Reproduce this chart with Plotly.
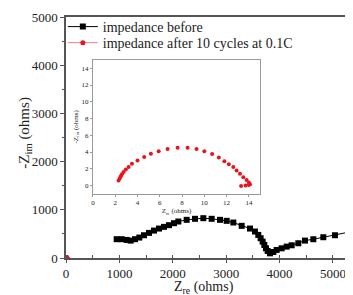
import plotly.graph_objects as go

# Black series: impedance before (ohms)
before_x = [949, 1043, 1136, 1211, 1292, 1373, 1461, 1554, 1648, 1742, 1835, 1929, 2022,
            2104, 2260, 2416, 2572, 2728, 2884, 3009, 3134, 3290, 3446, 3539, 3601, 3645,
            3683, 3714, 3745, 3777, 3820, 3883, 3945, 4039, 4133, 4226, 4351, 4476, 4632,
            4819, 5037, 5287]
before_y = [390, 390, 375, 361, 390, 424, 472, 521, 569, 611, 646, 681, 722,
            757, 792, 813, 826, 813, 792, 771, 736, 667, 611, 549, 479, 410,
            340, 271, 201, 146, 97, 125, 167, 201, 236, 264, 306, 361, 389,
            431, 472, 535]

# Red series: impedance after 10 cycles at 0.1C (ohms)
after_x = [2.3, 2.4, 2.5, 2.6, 2.75, 2.95, 3.2, 3.5, 4.0, 4.6, 5.2, 5.9, 6.7, 7.6, 8.5,
           9.3, 10.0, 10.7, 11.3, 11.8, 12.2, 12.6, 12.9, 13.2, 13.5, 13.8, 14.0, 14.1,
           14.0, 13.7, 13.3]
after_y = [0.6, 0.85, 1.1, 1.35, 1.6, 1.9, 2.2, 2.6, 3.0, 3.4, 3.8, 4.1, 4.35, 4.5, 4.5,
           4.35, 4.1, 3.75, 3.35, 2.9, 2.55, 2.2, 1.8, 1.4, 1.0, 0.65, 0.35, 0.15,
           0.05, 0.0, -0.05]

main_x_ticks = [0, 1000, 2000, 3000, 4000, 5000]
main_y_ticks = [0, 1000, 2000, 3000, 4000, 5000]
inset_ticks = [0, 2, 4, 6, 8, 10, 12, 14]

FONT = "Liberation Serif"
AX = "#555555"

fig = go.Figure()
fig.add_trace(go.Scatter(
    x=before_x, y=before_y, mode="lines+markers", name="impedance before",
    line=dict(color="black", width=1),
    marker=dict(symbol="square", size=6, color="black"),
    xaxis="x", yaxis="y", legend="legend"))
fig.add_trace(go.Scatter(
    x=after_x, y=after_y, mode="lines+markers", name="impedance after 10 cycles at 0.1C",
    line=dict(color="#f08080", width=1),
    marker=dict(symbol="circle", size=5, color="#e8141e"),
    xaxis="x", yaxis="y", legend="legend2"))
fig.add_trace(go.Scatter(
    x=after_x, y=after_y, mode="markers", showlegend=False,
    marker=dict(symbol="circle", size=4, color="#e8141e"),
    xaxis="x2", yaxis="y2"))

leg_common = dict(xanchor="left", yanchor="middle", bgcolor="rgba(0,0,0,0)",
                  font=dict(size=14, family=FONT, color="#222222"), itemwidth=30)

fig.update_layout(
    width=345, height=287,
    margin=dict(l=58, r=0, t=9, b=37, autoexpand=False),
    paper_bgcolor="white", plot_bgcolor="white",
    font=dict(family=FONT, color="#222222"),
    showlegend=True,
    legend=dict(x=-0.011, y=0.9585, **leg_common),
    legend2=dict(x=-0.011, y=0.892, **leg_common),
    xaxis=dict(range=[0, 5375], tickvals=main_x_ticks, showgrid=False, zeroline=False,
               showline=True, linecolor=AX, linewidth=1.5, mirror=True, automargin=False,
               ticks="outside", ticklen=3, tickcolor=AX,
               minor=dict(ticks="inside", ticklen=3, dtick=500, tickcolor=AX),
               tickfont=dict(size=13, family=FONT)),
    yaxis=dict(range=[0, 5000], tickvals=main_y_ticks, showgrid=False, zeroline=False,
               showline=True, linecolor=AX, linewidth=1.5, automargin=False,
               ticks="outside", ticklen=4, tickcolor=AX,
               minor=dict(ticks="outside", ticklen=2, dtick=500, tickcolor=AX),
               tickfont=dict(size=13, family=FONT)),
    xaxis2=dict(domain=[0.094, 0.676], anchor="y2", range=[0, 15], tickvals=inset_ticks,
                showgrid=False, zeroline=False, showline=True, linecolor="#999999",
                linewidth=1, mirror=True, ticks="outside", ticklen=2, tickcolor="#999999",
                tickfont=dict(size=7, family=FONT),
                title=dict(text="Z<sub>re</sub> (ohms)", font=dict(size=7, family=FONT), standoff=1)),
    yaxis2=dict(domain=[0.266, 0.822], anchor="x2", range=[-1, 15], tickvals=inset_ticks,
                showgrid=False, zeroline=False, showline=True, linecolor="#999999",
                linewidth=1, mirror=True, ticks="outside", ticklen=2, tickcolor="#999999",
                tickfont=dict(size=7, family=FONT),
                title=dict(text="-Z<sub>im</sub> (ohms)", font=dict(size=7, family=FONT), standoff=2)),
    annotations=[
        dict(text="Z<sub>re</sub> (ohms)", xref="paper", yref="paper", x=0.48, y=-0.122,
             xanchor="center", yanchor="middle", showarrow=False,
             font=dict(size=14, family=FONT, color="#222222")),
        dict(text="-Z<sub>im</sub> (ohms)", xref="paper", yref="paper", x=-0.143, y=0.52,
             xanchor="center", yanchor="middle", showarrow=False, textangle=-90,
             font=dict(size=15, family=FONT, color="#222222")),
    ],
)

fig.write_html("out.html")
